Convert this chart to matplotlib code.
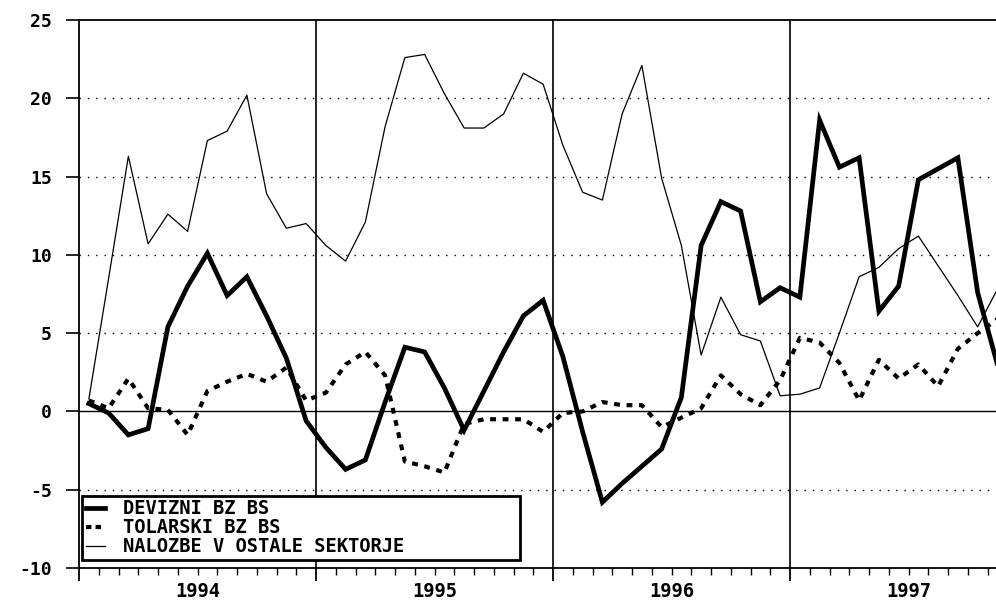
import numpy as np
import matplotlib
matplotlib.use("Agg")
import matplotlib.pyplot as plt
from matplotlib.lines import Line2D

# ---- data (monthly, Jan 1994 .. Nov 1997) ----
years = ["1994", "1995", "1996", "1997"]
devizni = [0.5, -0.1, -1.5, -1.1, 5.4, 8.0, 10.1, 7.4, 8.6, 6.1, 3.4, -0.6,
           -2.3, -3.7, -3.1, 0.6, 4.1, 3.8, 1.5, -1.2, 1.3, 3.8, 6.1, 7.1,
           3.5, -1.3, -5.8, -4.6, -3.5, -2.4, 0.9, 10.6, 13.4, 12.8, 7.0, 7.9,
           7.3, 18.6, 15.6, 16.2, 6.4, 8.0, 14.8, 15.5, 16.2, 7.6, 3.0]
tolarski = [0.7, 0.2, 2.1, 0.2, 0.1, -1.5, 1.3, 1.9, 2.4, 1.9, 2.8, 0.7,
            1.2, 3.0, 3.8, 2.3, -3.2, -3.5, -3.9, -0.8, -0.5, -0.5, -0.5, -1.3,
            -0.1, 0.0, 0.6, 0.4, 0.4, -1.0, -0.4, 0.2, 2.3, 1.1, 0.4, 2.0,
            4.7, 4.4, 3.1, 0.7, 3.3, 2.1, 3.0, 1.6, 4.0, 5.0, 5.9]
nalozbe = [0.8, 8.5, 16.3, 10.7, 12.6, 11.5, 17.3, 17.9, 20.2, 13.9, 11.7, 12.0,
           10.6, 9.6, 12.1, 18.2, 22.6, 22.8, 20.3, 18.1, 18.1, 19.0, 21.6, 20.9,
           17.0, 14.0, 13.5, 19.0, 22.1, 14.9, 10.6, 3.6, 7.3, 4.9, 4.5, 1.0,
           1.1, 1.5, 5.0, 8.6, 9.2, 10.4, 11.2, 9.3, 7.4, 5.4, 7.8]
labels = ["DEVIZNI BZ BS", "TOLARSKI BZ BS", "NALOZBE V OSTALE SEKTORJE"]
yticks = [-10, -5, 0, 5, 10, 15, 20, 25]

FONT = "DejaVu Sans Mono"

x = np.arange(len(devizni)) + 0.5  # month centres, months since Jan 1994

fig = plt.figure(figsize=(9.96, 6.01), dpi=100)
ax = fig.add_axes([79 / 996, 33 / 601, 917 / 996, 548 / 601])

# grid (dotted) and reference lines
for yv in yticks:
    if yv in (-10, 0, 25):
        continue
    ax.axhline(yv, color="black", lw=1.0, ls=(0, (1, 5)), zorder=1)
ax.axhline(0, color="black", lw=1.0, zorder=1)
for k in range(1, len(years)):
    ax.axvline(12 * k, color="black", lw=1.2, zorder=1)

# series
ax.plot(x, nalozbe, color="black", lw=0.9, zorder=3, label=labels[2])
ax.plot(x, devizni, color="black", lw=3.4, zorder=4, label=labels[0],
        solid_joinstyle="miter")
ax.plot(x, tolarski, color="black", lw=3.0, ls=(0, (1.4, 1.6)),
        dash_capstyle="butt", zorder=4, label=labels[1])

ax.set_ylim(-10, 25)
ax.set_xlim(0, (996 - 79) / 19.75)

# axes styling
ax.spines["right"].set_visible(False)
for s in ("left", "top", "bottom"):
    ax.spines[s].set_linewidth(1.3)
ax.set_yticks(yticks)
ax.set_yticklabels([str(v) for v in yticks], fontfamily=FONT,
                   fontweight="bold", fontsize=13)
ax.tick_params(axis="y", direction="out", length=9.5, width=1.2, pad=10)

ax.set_xticks([12 * k for k in range(len(years))])
ax.set_xticklabels([])
ax.set_xticks(np.arange(0, 47), minor=True)
ax.tick_params(axis="x", which="major", direction="out", length=9, width=1.3)
ax.tick_params(axis="x", which="minor", direction="out", length=5, width=1.0)

for k, yr in enumerate(years):
    ax.text(12 * k + 6, -0.026, yr, transform=ax.get_xaxis_transform(),
            ha="center", va="top", fontfamily=FONT, fontweight="bold",
            fontsize=13.5)

# legend
handles = [
    Line2D([], [], color="black", lw=3.4),
    Line2D([], [], color="black", lw=3.0, ls=(0, (1.3, 1.0)),
           dash_capstyle="butt"),
    Line2D([], [], color="black", lw=0.9),
]
leg = ax.legend(handles, labels, loc="lower left",
                bbox_to_anchor=(3 / 917, 8 / 548, 438 / 917, 60 / 548),
                mode="expand", borderaxespad=0, fancybox=False,
                framealpha=1, edgecolor="black", handlelength=1.0,
                handletextpad=1.0, labelspacing=0.0, borderpad=0.2,
                prop={"family": FONT, "weight": "bold", "size": 13.5})
leg.get_frame().set_linewidth(2.0)
leg.set_zorder(10)

fig.savefig("out.png", dpi=100, facecolor="white")
